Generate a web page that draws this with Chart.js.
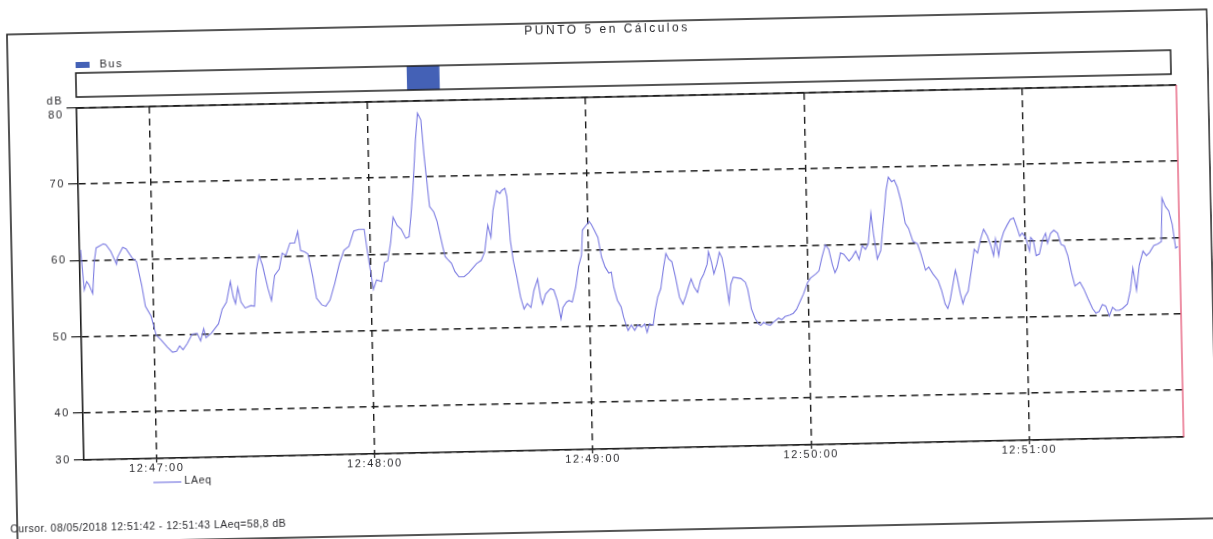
<!DOCTYPE html>
<html>
<head>
<meta charset="utf-8">
<script src="https://cdn.jsdelivr.net/npm/chart.js@4.4.0/dist/chart.umd.min.js"></script>
<style>
  html, body { margin: 0; padding: 0; background: #fff; overflow: hidden; width: 1213px; height: 539px; }
  #sheet { position: absolute; left: 0; top: 0; width: 1213px; height: 539px;
           transform: rotate(-1.2deg); transform-origin: 606.5px 269.5px; }
  canvas { display: block; }
</style>
</head>
<body>
<div id="sheet"><canvas id="c" width="1213" height="539"></canvas></div>
<script>
// Sound level record, point 5 — time in seconds after 12:46:00
const titleText = 'PUNTO 5 en Cálculos';
const seriesLabel = 'LAeq';
const yUnit = 'dB';

const seconds = [
  40.3, 41.1, 41.8, 42.4, 43.4, 44.0, 44.6, 46.6, 47.3, 48.6, 50.1, 50.4, 51.9, 52.8, 54.4, 55.6,
  56.9, 57.8, 59.3, 60.6, 62.0, 63.6, 65.0, 66.1, 67.0, 67.9, 69.1, 70.5, 71.9, 72.8, 73.7, 74.3,
  75.8, 77.8, 78.9, 80.1, 81.3, 82.0, 82.6, 83.3, 84.1, 85.2, 86.8, 87.8, 88.5, 89.3, 90.2, 91.6,
  92.5, 93.5, 94.8, 95.7, 96.7, 97.9, 99.2, 100.1, 100.8, 101.9, 102.8, 104.0, 104.9, 106.3, 107.4, 108.6,
  110.0, 111.4, 112.7, 114.1, 115.5, 116.9, 118.4, 119.2, 120.1, 120.6, 121.5, 122.9, 123.8, 124.7, 125.6, 126.4,
  127.5, 128.6, 129.8, 130.7, 131.3, 132.0, 133.0, 133.7, 134.6, 135.3, 136.5, 137.6, 138.5, 139.9, 140.5, 141.4,
  142.2, 143.1, 144.2, 145.6, 146.9, 149.1, 150.4, 151.4, 152.4, 153.2, 153.9, 155.0, 155.9, 156.4, 157.3, 157.8,
  158.5, 159.2, 160.1, 161.0, 161.9, 162.8, 163.8, 164.7, 165.8, 166.5, 167.0, 167.9, 169.3, 170.2, 171.1, 172.0,
  172.6, 173.6, 174.3, 175.2, 176.2, 177.1, 178.0, 178.4, 179.4, 180.3, 180.9, 181.7, 182.6, 183.5, 184.4, 185.4,
  186.1, 186.7, 187.6, 188.6, 189.2, 189.9, 190.4, 191.3, 192.2, 193.1, 194.1, 195.0, 195.6, 196.3, 197.3, 197.9,
  198.7, 199.6, 200.5, 201.2, 201.9, 202.8, 203.7, 204.7, 205.6, 206.5, 207.2, 208.0, 208.8, 209.7, 210.6, 211.5,
  212.5, 212.9, 213.7, 214.3, 215.2, 215.9, 216.6, 217.3, 218.3, 218.9, 219.6, 220.7, 221.7, 222.9, 223.5, 224.4,
  225.4, 226.3, 226.9, 227.7, 228.6, 229.5, 230.4, 231.8, 232.7, 233.6, 235.0, 235.9, 236.8, 237.7, 238.8, 240.0,
  240.9, 242.3, 243.2, 244.1, 245.1, 246.0, 246.9, 247.6, 248.3, 249.2, 250.1, 251.5, 252.4, 253.4, 254.3, 255.2,
  256.1, 256.9, 257.8, 258.4, 259.3, 260.3, 261.2, 262.1, 262.8, 263.7, 264.4, 265.2, 266.1, 267.2, 268.1, 269.2,
  270.4, 271.3, 272.5, 273.4, 274.5, 275.9, 276.8, 277.7, 278.4, 279.1, 280.0, 280.7, 281.1, 281.9, 282.6, 283.2,
  284.1, 285.1, 286.0, 286.9, 287.8, 288.7, 289.7, 290.6, 291.3, 291.9, 292.7, 293.3, 294.2, 295.2, 296.1, 297.0,
  297.9, 298.6, 299.3, 300.2, 301.2, 301.6, 302.3, 303.0, 303.9, 304.8, 305.7, 306.2, 307.1, 308.0, 309.0, 309.9,
  310.8, 311.7, 312.6, 313.5, 314.9, 315.9, 317.0, 318.2, 319.1, 320.0, 320.9, 321.8, 322.8, 323.7, 324.6, 325.5,
  326.4, 327.8, 328.7, 329.5, 330.4, 331.3, 332.4, 333.3, 334.2, 335.4, 336.5, 337.5, 337.9, 338.8, 339.7, 340.6,
  341.4, 342.0
];

const laeq = [
  61.4, 56.1, 57.2, 56.8, 55.6, 59.8, 61.6, 62.1, 62.0, 61.1, 59.4, 60.3, 61.6, 61.4, 60.2, 59.7,
  56.6, 53.8, 52.5, 50.0, 49.3, 48.4, 47.7, 47.8, 48.5, 48.0, 48.8, 50.0, 50.1, 49.1, 50.7, 49.5,
  50.1, 51.3, 53.2, 54.1, 56.8, 54.8, 53.9, 56.0, 54.1, 53.3, 53.6, 53.5, 58.2, 60.2, 58.9, 55.8,
  54.2, 57.5, 58.3, 60.4, 60.1, 61.7, 61.7, 63.2, 60.7, 60.5, 60.2, 57.2, 54.4, 53.5, 53.3, 54.1,
  56.3, 58.9, 60.6, 61.1, 63.1, 63.3, 63.3, 60.2, 57.1, 55.4, 56.6, 56.4, 58.9, 59.1, 61.5, 64.8,
  63.7, 63.2, 62.0, 62.2, 64.8, 68.3, 74.9, 78.4, 77.5, 72.7, 66.1, 65.4, 64.1, 60.8, 59.5, 59.0,
  58.6, 57.5, 56.8, 56.8, 57.3, 58.5, 58.9, 60.0, 63.5, 61.9, 65.4, 68.0, 67.6, 68.0, 68.3, 67.2,
  61.5, 58.8, 56.6, 54.0, 52.4, 53.1, 52.6, 54.8, 56.3, 53.9, 53.0, 54.3, 55.0, 54.8, 53.4, 51.0,
  52.5, 53.2, 53.4, 53.2, 55.1, 57.8, 59.3, 62.6, 63.2, 63.7, 63.3, 62.5, 61.6, 59.0, 57.7, 56.9,
  57.0, 55.0, 53.3, 52.4, 51.1, 50.0, 49.3, 50.0, 49.3, 50.0, 49.7, 50.1, 49.0, 50.1, 49.9, 51.8,
  53.6, 54.7, 57.5, 59.3, 58.6, 58.2, 56.2, 53.5, 52.6, 53.7, 54.8, 55.9, 54.8, 54.1, 55.7, 56.5,
  57.8, 59.4, 58.0, 56.5, 57.8, 59.3, 58.6, 56.7, 52.7, 55.1, 56.0, 55.9, 55.8, 55.3, 54.4, 51.8,
  50.5, 49.8, 49.6, 50.0, 49.7, 49.6, 50.0, 50.5, 50.3, 50.7, 50.9, 51.1, 51.6, 52.5, 53.6, 55.1,
  55.7, 56.2, 56.6, 58.4, 60.0, 59.4, 57.4, 56.3, 57.0, 58.9, 58.7, 57.8, 58.3, 59.1, 58.0, 59.8,
  59.3, 60.0, 64.0, 61.3, 58.0, 59.1, 63.0, 67.0, 68.7, 68.1, 68.3, 67.4, 65.6, 62.6, 61.9, 60.2,
  59.9, 58.6, 56.4, 56.8, 55.9, 55.0, 53.7, 51.9, 51.3, 52.4, 54.6, 56.3, 55.5, 53.3, 51.9, 52.8,
  53.5, 56.3, 59.0, 58.5, 60.3, 61.6, 60.7, 59.4, 58.1, 60.3, 58.1, 59.9, 61.2, 62.1, 62.8, 63.0,
  61.7, 60.6, 61.0, 60.4, 58.6, 60.4, 60.0, 58.0, 58.2, 60.0, 60.9, 59.6, 60.9, 61.3, 60.9, 59.4,
  59.2, 57.9, 55.7, 53.9, 54.4, 53.5, 52.2, 50.9, 50.3, 50.5, 51.4, 51.2, 49.9, 51.0, 50.6, 50.6,
  50.8, 51.4, 53.2, 56.1, 53.2, 56.5, 58.3, 57.7, 58.1, 59.0, 59.2, 59.5, 65.2, 64.1, 63.5, 61.7,
  58.6, 58.8
];

const xTickSeconds = [60, 120, 180, 240, 300];
const xTickLabels = ['12:47:00', '12:48:00', '12:49:00', '12:50:00', '12:51:00'];
// the axis floor sits a little above 30 dB but carries the "30" label
const yAxisMin = 33.8;
const yAxisMax = 80;
const yTicks = [33.8, 40, 50, 60, 70, 80];
const yTickLabels = ['30', '40', '50', '60', '70', '80'];

const busLabel = 'Bus';
const busStart = [131];
const busEnd = [140];

const cursorSeconds = 342.5;
const cursorText = 'Cursor. 08/05/2018 12:51:42 - 12:51:43 LAeq=58,8 dB';

const INK = '#1c1c1c';
const TEXT = '#2a2a2e';
const LINE = '#7c7ce2';
const BUS_BLUE = '#4461b6';
const FONT = '"Liberation Sans", Arial, sans-serif';

// Frame, title, event bar, legend and cursor line around the plot
const decor = {
  id: 'decor',
  beforeDraw(chart) {
    chart.ctx.letterSpacing = '1.6px';
  },
  afterDraw(chart) {
    const ctx = chart.ctx;
    const area = chart.chartArea;
    const xs = chart.scales.x;
    ctx.save();

    // outer frame
    ctx.strokeStyle = INK;
    ctx.lineWidth = 1.5;
    ctx.strokeRect(12, 22, 1200, 509);

    // title
    ctx.fillStyle = TEXT;
    ctx.font = '12px ' + FONT;
    ctx.letterSpacing = '2.5px';
    ctx.textAlign = 'center';
    ctx.textBaseline = 'middle';
    ctx.fillText(titleText, 612, 30);

    // event legend entry
    ctx.letterSpacing = '1.5px';
    ctx.fillStyle = BUS_BLUE;
    ctx.fillRect(80, 51, 14, 6);
    ctx.fillStyle = TEXT;
    ctx.font = '11px ' + FONT;
    ctx.textAlign = 'left';
    ctx.fillText(busLabel, 104, 54);

    // event bar with the bus passage
    ctx.fillStyle = BUS_BLUE;
    for (let i = 0; i < busStart.length; i++) {
      const x0 = xs.getPixelForValue(busStart[i]);
      const x1 = xs.getPixelForValue(busEnd[i]);
      ctx.fillRect(x0, 62, x1 - x0, 24);
    }
    ctx.strokeStyle = INK;
    ctx.lineWidth = 1.5;
    ctx.strokeRect(80, 62, 1095, 24);

    // top edge of the plot
    ctx.beginPath();
    ctx.moveTo(area.left, area.top);
    ctx.lineTo(area.right, area.top);
    ctx.stroke();

    // cursor line
    const cx = xs.getPixelForValue(cursorSeconds);
    ctx.strokeStyle = '#e2476a';
    ctx.lineWidth = 1.2;
    ctx.beginPath();
    ctx.moveTo(cx, area.top);
    ctx.lineTo(cx, area.bottom);
    ctx.stroke();

    // series legend
    ctx.strokeStyle = LINE;
    ctx.lineWidth = 1.2;
    ctx.beginPath();
    ctx.moveTo(149, 473);
    ctx.lineTo(177, 473);
    ctx.stroke();
    ctx.fillStyle = TEXT;
    ctx.font = '10.5px ' + FONT;
    ctx.letterSpacing = '0.8px';
    ctx.textAlign = 'left';
    ctx.fillText(seriesLabel, 180, 472);

    // cursor readout
    ctx.letterSpacing = '0.45px';
    ctx.fillText(cursorText, 5, 517);

    ctx.restore();
  }
};

new Chart(document.getElementById('c'), {
  type: 'line',
  data: {
    datasets: [{
      label: seriesLabel,
      data: seconds.map((s, i) => ({ x: s, y: laeq[i] })),
      borderColor: LINE,
      borderWidth: 1.1,
      pointRadius: 0,
      tension: 0,
      fill: false
    }]
  },
  options: {
    responsive: false,
    animation: false,
    devicePixelRatio: 1,
    layout: { padding: { left: 0, right: 33, top: 97, bottom: 0 } },
    plugins: { legend: { display: false }, title: { display: false }, tooltip: { enabled: false } },
    scales: {
      x: {
        type: 'linear',
        min: 40,
        max: 342.5,
        afterBuildTicks(scale) { scale.ticks = xTickSeconds.map(v => ({ value: v })); },
        afterFit(scale) { scale.height = 90; },
        ticks: {
          autoSkip: false,
          maxRotation: 0,
          padding: -1,
          color: TEXT,
          font: { family: FONT, size: 11 },
          callback: (v) => xTickLabels[xTickSeconds.indexOf(v)]
        },
        grid: {
          color: INK,
          lineWidth: 1.4,
          drawTicks: true,
          tickLength: 4,
          tickColor: INK,
          tickWidth: 1.2,
          tickBorderDash: []
        },
        border: { display: true, color: INK, width: 1.6, dash: [7, 5] }
      },
      y: {
        type: 'linear',
        min: yAxisMin,
        max: yAxisMax,
        afterBuildTicks(scale) { scale.ticks = yTicks.map(v => ({ value: v })); },
        afterFit(scale) { scale.width = 80; },
        ticks: {
          padding: 3,
          color: TEXT,
          font: { family: FONT, size: 11, lineHeight: 1.2 },
          callback: (v) => {
            const label = yTickLabels[yTicks.indexOf(v)];
            return v === yAxisMax ? [yUnit, label] : label;
          }
        },
        grid: {
          color: INK,
          lineWidth: 1.4,
          drawTicks: true,
          tickLength: 10,
          tickColor: INK,
          tickWidth: 1.2,
          tickBorderDash: []
        },
        border: { display: true, color: INK, width: 1.6, dash: [7, 5] }
      }
    }
  },
  plugins: [decor]
});
</script>
</body>
</html>
